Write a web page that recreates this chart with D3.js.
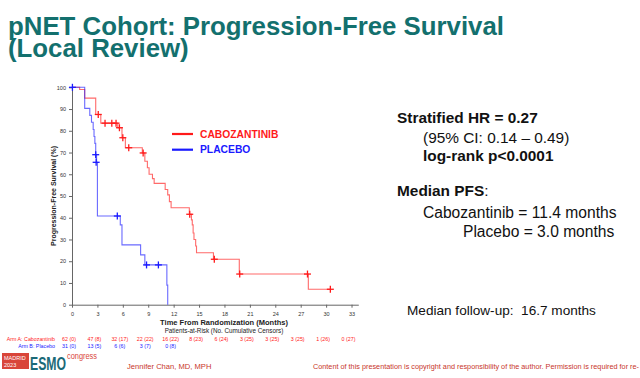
<!DOCTYPE html>
<html>
<head>
<meta charset="utf-8">
<script src="https://cdn.jsdelivr.net/npm/d3@7"></script>
<style>
  body { margin: 0; background: #fff; }
  svg { display: block; font-family: "Liberation Sans", Arial, sans-serif; }
</style>
</head>
<body>
<div id="chart"></div>
<script>
// datos: [meses, supervivencia %]
var caboSteps = [[0, 100], [0.9, 99], [1.5, 95], [2.8, 87.5], [3.4, 83.5], [5.4, 81.4], [5.9, 76.8],
  [6.3, 72.2], [8.3, 69.8], [8.6, 66], [8.9, 63], [9.1, 60], [9.5, 58], [9.7, 55.8], [11.0, 53],
  [11.3, 50.5], [11.5, 47.4], [11.7, 44.6], [13.85, 41.6], [14.1, 39], [14.2, 36.7], [14.3, 33],
  [14.4, 30], [14.6, 27], [14.7, 23.9], [16.7, 20.9], [19.75, 14.1], [27.9, 7.1], [30.5, 7.1]];
var caboCensors = [[3.1, 87.5], [3.9, 83.5], [4.7, 83.5], [5.2, 83.5], [5.6, 81.4], [6.0, 76.8],
  [6.7, 72.2], [8.4, 69.8], [13.9, 41.6], [16.8, 20.9], [19.8, 14.1], [27.8, 14.1], [30.5, 7.1]];

var placeboSteps = [[0, 100], [1.5, 90.3], [2.1, 87.1], [2.3, 83.9], [2.5, 80.6], [2.6, 77.4],
  [2.7, 74.2], [2.8, 69], [2.9, 65.5], [3.0, 40.8], [5.7, 36.7], [5.9, 27.5], [8.1, 22.9],
  [8.6, 18.3], [11.2, 9], [11.3, 0], [11.3, 0]];
var placeboCensors = [[0.05, 100], [2.8, 69], [2.85, 65.5], [5.35, 40.8], [8.8, 18.3], [10.2, 18.3]];

var xTicks = [0, 3, 6, 9, 12, 15, 18, 21, 24, 27, 30, 33];
var yTicks = [0, 10, 20, 30, 40, 50, 60, 70, 80, 90, 100];
var riskTimes = [0, 3, 6, 9, 12, 15, 18, 21, 24, 27, 30, 33];
var riskCabo = ["62 (0)", "47 (8)", "32 (17)", "22 (22)", "16 (22)", "8 (23)", "6 (24)", "3 (25)", "3 (25)", "3 (25)", "1 (26)", "0 (27)"];
var riskPlacebo = ["31 (0)", "13 (5)", "6 (6)", "3 (7)", "0 (8)"];

var rojo = "#ff1a1a", azul = "#1a1aff", teal = "#13706e", rojoPie = "#c8352b";

var svg = d3.select("#chart").append("svg").attr("width", 640).attr("height", 378);

// titulo
var titulo = svg.append("text").attr("x", 8).attr("fill", teal)
  .attr("font-weight", "bold").attr("font-size", 25.8);
titulo.append("tspan").attr("x", 8).attr("y", 35).text("pNET Cohort: Progression-Free Survival");
titulo.append("tspan").attr("x", 8).attr("y", 57).text("(Local Review)");

// escalas
var x = d3.scaleLinear().domain([0, 33.8]).range([72, 358.3]);
var y = d3.scaleLinear().domain([0, 100]).range([304.7, 87.3]);

var ejeX = svg.append("g").attr("transform", "translate(0," + y(0) + ")")
  .call(d3.axisBottom(x).tickValues(xTicks).tickSize(3).tickSizeOuter(0));
var ejeY = svg.append("g").attr("transform", "translate(" + x(0) + ",0)")
  .call(d3.axisLeft(y).tickValues(yTicks).tickSize(3).tickSizeOuter(0));
[ejeX, ejeY].forEach(function (g) {
  g.selectAll("path, line").attr("stroke", "#666");
  g.selectAll("text").attr("font-size", 5.5).attr("fill", "#333").attr("font-family", "Liberation Sans, Arial");
});
ejeX.selectAll("text").attr("dy", "0.9em");

svg.append("text").attr("transform", "translate(56," + y(50) + ") rotate(-90)")
  .attr("text-anchor", "middle").attr("font-size", 7).attr("font-weight", "bold").attr("fill", "#222")
  .text("Progression-Free Survival (%)");

svg.append("text").attr("x", 224).attr("y", 325).attr("text-anchor", "middle")
  .attr("font-size", 7.5).attr("font-weight", "bold").attr("fill", "#222")
  .text("Time From Randomization (Months)");
svg.append("text").attr("x", 224).attr("y", 333).attr("text-anchor", "middle")
  .attr("font-size", 6.3).attr("fill", "#222")
  .text("Patients-at-Risk (No. Cumulative Censors)");

// curvas
var linea = d3.line().x(d => x(d[0])).y(d => y(d[1])).curve(d3.curveStepAfter);
function curva(steps, censors, color) {
  svg.append("path").datum(steps).attr("d", linea).attr("fill", "none")
    .attr("stroke", color).attr("stroke-width", 1.1).attr("stroke-opacity", 0.65);
  var c = svg.append("g").selectAll("g").data(censors).enter().append("g")
    .attr("transform", d => "translate(" + x(d[0]) + "," + y(d[1]) + ")");
  c.append("line").attr("x1", -3.5).attr("x2", 3.5).attr("stroke", color).attr("stroke-width", 1.3);
  c.append("line").attr("y1", -3.5).attr("y2", 3.5).attr("stroke", color).attr("stroke-width", 1.3);
}
curva(caboSteps, caboCensors, rojo);
curva(placeboSteps, placeboCensors, azul);

// leyenda
var leyenda = [["CABOZANTINIB", rojo, 134], ["PLACEBO", azul, 149.7]];
leyenda.forEach(function (l) {
  svg.append("line").attr("x1", 172).attr("x2", 193).attr("y1", l[2]).attr("y2", l[2])
    .attr("stroke", l[1]).attr("stroke-width", 2.2);
  svg.append("text").attr("x", 200).attr("y", l[2] + 3.5).attr("fill", l[1])
    .attr("font-size", 10.3).attr("font-weight", "bold").text(l[0]);
});

// pacientes en riesgo
svg.append("text").attr("x", 55).attr("y", 341).attr("text-anchor", "end").attr("font-size", 5.3)
  .attr("fill", rojo).text("Arm A: Cabozantinib");
svg.append("text").attr("x", 55).attr("y", 347.5).attr("text-anchor", "end").attr("font-size", 5.3)
  .attr("fill", azul).text("Arm B: Placebo");
svg.append("g").selectAll("text").data(riskCabo).enter().append("text")
  .attr("x", (d, i) => x(riskTimes[i]) - 3).attr("y", 341).attr("text-anchor", "middle")
  .attr("font-size", 5.3).attr("fill", rojo).text(d => d);
svg.append("g").selectAll("text").data(riskPlacebo).enter().append("text")
  .attr("x", (d, i) => x(riskTimes[i]) - 3).attr("y", 347.5).attr("text-anchor", "middle")
  .attr("font-size", 5.3).attr("fill", azul).text(d => d);

// texto derecho
function texto(xx, yy, s, size, bold) {
  return svg.append("text").attr("x", xx).attr("y", yy).attr("font-size", size)
    .attr("font-weight", bold ? "bold" : "normal").attr("fill", "#111").text(s);
}
texto(397, 123, "Stratified HR = 0.27", 15.4, true);
texto(423, 143.3, "(95% CI: 0.14 \u2013 0.49)", 15.4, false);
texto(423, 160.7, "log-rank p<0.0001", 15.4, true);
var mpfs = texto(397, 196, "Median PFS", 15.4, true);
mpfs.append("tspan").attr("font-weight", "normal").text(":");
texto(423, 218.3, "Cabozantinib = 11.4 months", 15.6, false);
texto(463, 236.7, "Placebo = 3.0 months", 15.6, false);
texto(407, 315, "Median follow-up:\u00a0 16.7 months", 13.6, false);

// pie
svg.append("rect").attr("x", 2).attr("y", 353).attr("width", 27).attr("height", 16).attr("fill", "#d9453a");
svg.append("text").attr("x", 4).attr("y", 360).attr("font-size", 5.5).attr("fill", "#fff").text("MADRID");
svg.append("text").attr("x", 4).attr("y", 366.5).attr("font-size", 5.5).attr("fill", "#fff").text("2023");
svg.append("text").attr("x", 30).attr("y", 370).attr("font-size", 19).attr("font-weight", "bold")
  .attr("fill", "#1b6a78").attr("textLength", 36).attr("lengthAdjust", "spacingAndGlyphs").text("ESMO");
svg.append("text").attr("x", 67).attr("y", 359).attr("font-size", 9.5).attr("fill", "#d9453a")
  .attr("textLength", 30).attr("lengthAdjust", "spacingAndGlyphs").text("congress");
svg.append("text").attr("x", 127).attr("y", 369).attr("font-size", 7.6).attr("fill", rojoPie)
  .text("Jennifer Chan, MD, MPH");
svg.append("text").attr("x", 313).attr("y", 369).attr("font-size", 7.3).attr("fill", rojoPie)
  .attr("textLength", 326).attr("lengthAdjust", "spacingAndGlyphs")
  .text("Content of this presentation is copyright and responsibility of the author. Permission is required for re-");
</script>
</body>
</html>
